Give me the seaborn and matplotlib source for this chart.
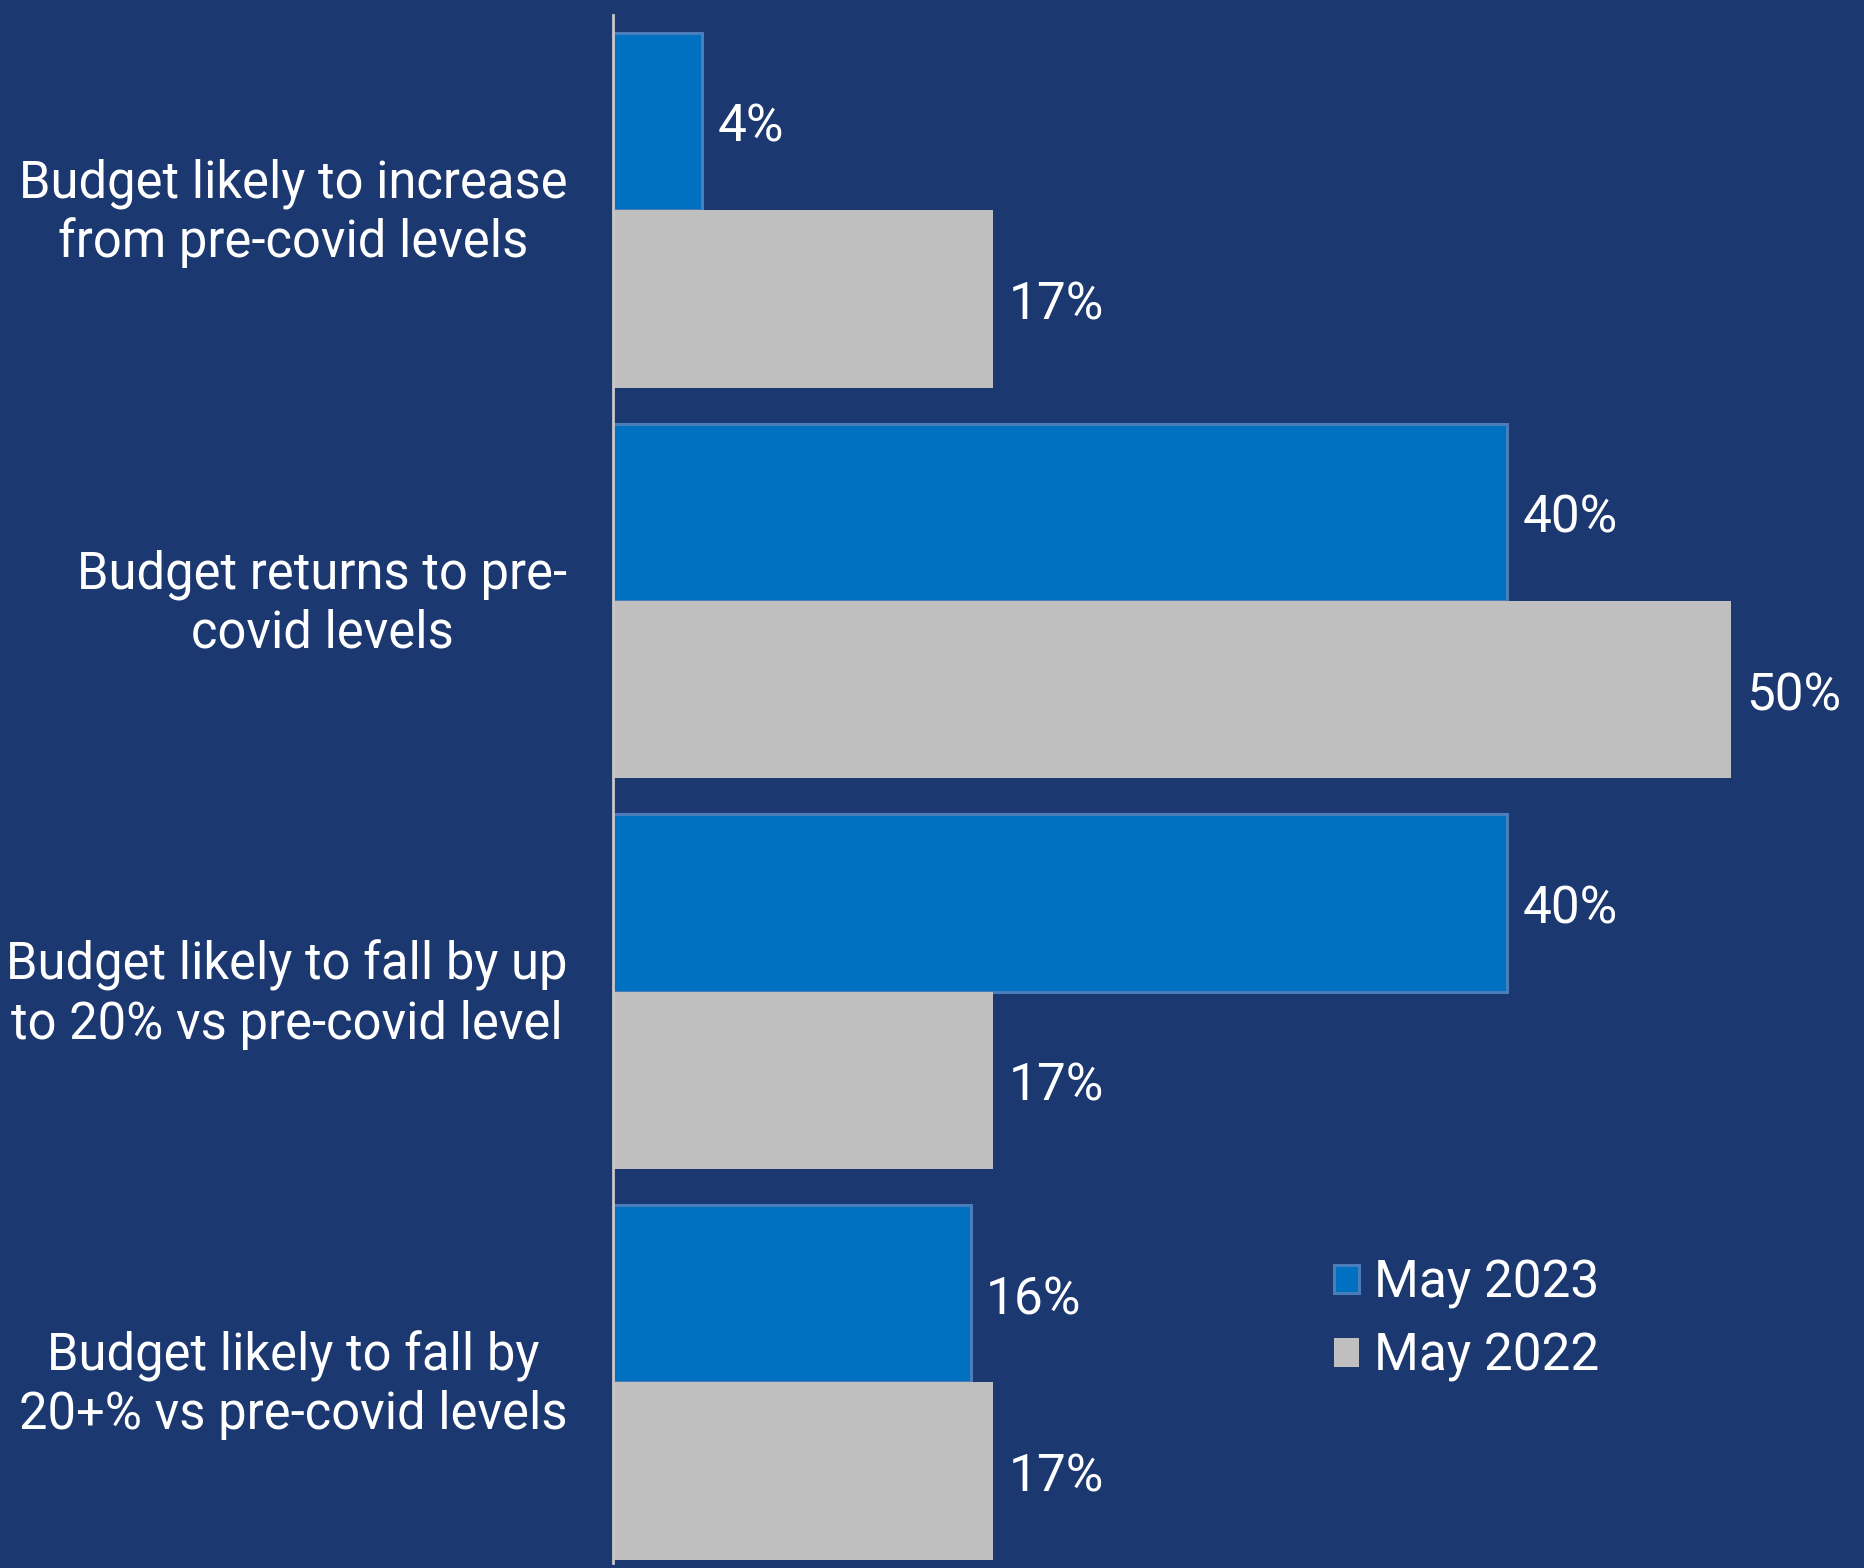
import matplotlib
matplotlib.use("Agg")
import matplotlib.pyplot as plt
import matplotlib.transforms as mtransforms
import seaborn as sns
import pandas as pd
from matplotlib.patches import Patch

categories = [
    "Budget likely to increase\nfrom pre-covid levels",
    "Budget returns to pre-\ncovid levels",
    "Budget likely to fall by up\nto 20% vs pre-covid level",
    "Budget likely to fall by\n20+% vs pre-covid levels",
]
may_2023 = [4, 40, 40, 16]
may_2022 = [17, 50, 17, 17]
series = ["May 2023", "May 2022"]

BG = "#1C3870"
BLUE = "#0070C0"
GREY = "#BFBFBF"
BLUE_EDGE = "#4A7EBB"

df = pd.DataFrame({
    "category": categories * 2,
    "value": may_2023 + may_2022,
    "survey": [series[0]] * 4 + [series[1]] * 4,
})

sns.set_theme(style="white")
plt.rcParams["font.family"] = ["Roboto", "DejaVu Sans"]

fig = plt.figure(figsize=(18.64, 15.68), dpi=100, facecolor=BG)
ax = fig.add_axes([613 / 1864, 1 - 1563 / 1568, 1 - 613 / 1864, 1548 / 1568])
ax.set_facecolor(BG)

sns.barplot(
    data=df, x="value", y="category", hue="survey", orient="h",
    palette={series[0]: BLUE, series[1]: GREY}, width=0.908,
    dodge=True, saturation=1, ax=ax, legend=False,
)

for container, name in zip(ax.containers, series):
    for patch in container:
        if name == series[0]:
            patch.set_edgecolor(BLUE_EDGE)
            patch.set_linewidth(2.2)
        else:
            patch.set_edgecolor(GREY)
            patch.set_linewidth(0)
    texts = ax.bar_label(container, labels=[f"{v:.0f}%" for v in container.datavalues],
                         padding=11, color="white", fontsize=37)
    # drop the value labels a touch below the bar's geometric centre
    for t in texts:
        t.xyann = (t.xyann[0], t.xyann[1] - 4.5)

ax.set_xlim(0, (1864 - 613) / 22.36)
ax.set_ylim(3.462, -0.5)
ax.set_xlabel("")
ax.set_ylabel("")
ax.set_xticks([])
ax.set_yticks(range(len(categories)))
ax.set_yticklabels(categories, color="white", fontsize=36.5, multialignment="center",
                   linespacing=1.22)
ax.tick_params(axis="y", length=0, pad=33)
up = mtransforms.ScaledTranslation(0, 7 / 100, fig.dpi_scale_trans)
for lbl in ax.get_yticklabels():
    lbl.set_transform(lbl.get_transform() + up)

for side in ["top", "right", "bottom"]:
    ax.spines[side].set_visible(False)
ax.spines["left"].set_color("#C8C8C8")
ax.spines["left"].set_linewidth(2)

handles = [
    Patch(facecolor=BLUE, edgecolor=BLUE_EDGE, linewidth=2.2, label=series[0]),
    Patch(facecolor=GREY, edgecolor=GREY, linewidth=0, label=series[1]),
]
fig.legend(handles=handles, loc="upper left", bbox_to_anchor=(1288 / 1864, 1 - 1212 / 1568),
           frameon=False, fontsize=37, handlelength=0.48, handleheight=0.48,
           handletextpad=0.3, labelspacing=0.45, labelcolor="white")

fig.savefig("out.png", dpi=100, facecolor=BG)
